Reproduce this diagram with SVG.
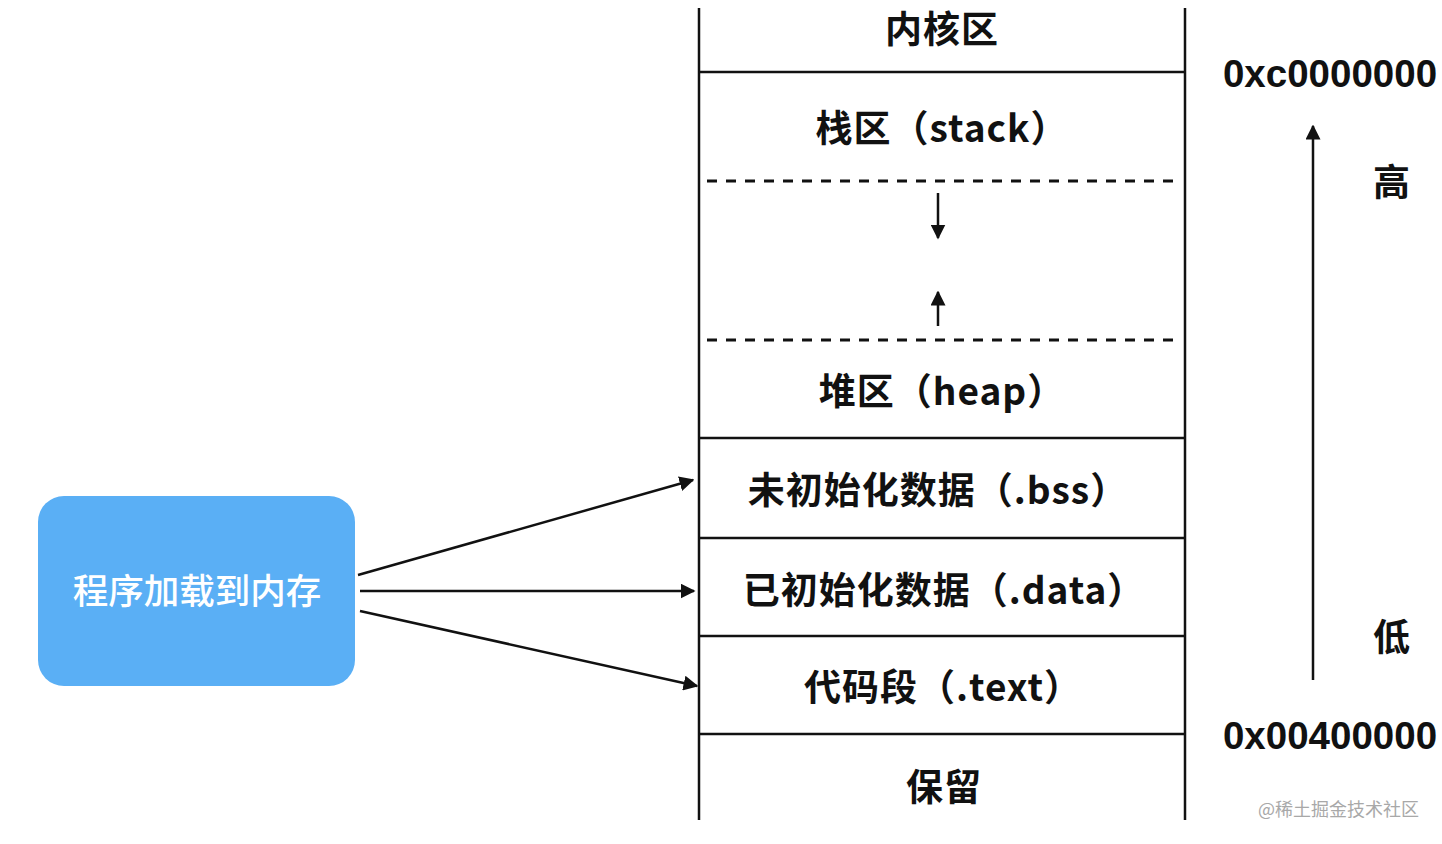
<svg xmlns="http://www.w3.org/2000/svg" width="1442" height="844" viewBox="0 0 1442 844">
<style>
.bg{fill:#ffffff}
.line{stroke:#111;stroke-width:2.5;fill:none}
.dash{stroke:#111;stroke-width:3;stroke-dasharray:10 9;fill:none}
.conn{stroke:#111;stroke-width:2.5;fill:none}
.lbl{font-family:"Noto Sans CJK SC","Liberation Sans",sans-serif;font-size:37px;font-weight:bold;fill:#111;text-anchor:middle;letter-spacing:1px}
.addr{font-family:"Liberation Sans","Noto Sans CJK SC",sans-serif;font-size:38.5px;font-weight:bold;fill:#111;text-anchor:middle}
.box{fill:#5AAFF5}
.boxtxt{font-family:"Noto Sans CJK SC",sans-serif;font-size:35.5px;font-weight:500;fill:#ffffff;text-anchor:middle}
.wm{font-family:"Noto Sans CJK SC",sans-serif;font-size:18px;fill:#a8a8a8}
</style>
<defs>
<marker id="ah" viewBox="0 0 10 10" refX="9" refY="5" markerWidth="6" markerHeight="6" orient="auto" markerUnits="strokeWidth">
<path d="M0,0 L10,5 L0,10 z" fill="#111"/>
</marker>
</defs>
<rect class="bg" x="0" y="0" width="1442" height="844"/>
<g id="memory">
<line class="line" x1="699" y1="8" x2="699" y2="820"/>
<line class="line" x1="1185" y1="8" x2="1185" y2="820"/>
<line class="line" x1="699" y1="72" x2="1185" y2="72"/>
<line class="dash" x1="707" y1="181" x2="1180" y2="181"/>
<line class="dash" x1="707" y1="340" x2="1180" y2="340"/>
<line class="line" x1="699" y1="438" x2="1185" y2="438"/>
<line class="line" x1="699" y1="538" x2="1185" y2="538"/>
<line class="line" x1="699" y1="636" x2="1185" y2="636"/>
<line class="line" x1="699" y1="734" x2="1185" y2="734"/>
</g>
<g id="kernel"><text class="lbl" x="942" y="43">内核区</text></g>
<g id="stack"><text class="lbl" x="942" y="142">栈区（stack）</text></g>
<g id="heap"><text class="lbl" x="942" y="405">堆区（heap）</text></g>
<g id="bss"><text class="lbl" x="938" y="504">未初始化数据（.bss）</text></g>
<g id="data"><text class="lbl" x="944" y="604">已初始化数据（.data）</text></g>
<g id="text"><text class="lbl" x="943" y="701">代码段（.text）</text></g>
<g id="reserved"><text class="lbl" x="944" y="801">保留</text></g>
<g id="loader">
<rect class="box" x="38" y="496" width="317" height="190" rx="26" ry="26"/>
<text class="boxtxt" x="197" y="604">程序加载到内存</text>
</g>
<g id="addresses">
<text class="addr" x="1330" y="87">0xc0000000</text>
<text class="addr" x="1330" y="749">0x00400000</text>
<text class="lbl" x="1392" y="196">高</text>
<text class="lbl" x="1392" y="651">低</text>
</g>
<g id="connectors">
<line class="conn" x1="938" y1="193" x2="938" y2="238" marker-end="url(#ah)"/>
<line class="conn" x1="938" y1="326" x2="938" y2="292" marker-end="url(#ah)"/>
<line class="conn" x1="1313" y1="680" x2="1313" y2="126" marker-end="url(#ah)"/>
<line class="conn" x1="358" y1="575" x2="693" y2="480" marker-end="url(#ah)"/>
<line class="conn" x1="360" y1="591" x2="694" y2="591" marker-end="url(#ah)"/>
<line class="conn" x1="360" y1="611" x2="697" y2="686" marker-end="url(#ah)"/>
</g>
<text class="wm" x="1258" y="816">@稀土掘金技术社区</text>
</svg>
